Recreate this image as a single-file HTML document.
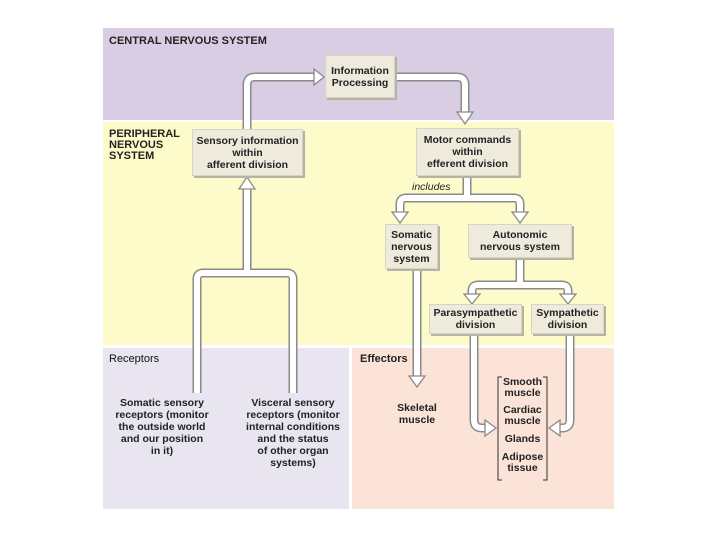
<!DOCTYPE html>
<html><head><meta charset="utf-8"><style>
body{margin:0;width:720px;height:540px;background:#fff;position:relative;overflow:hidden;font-family:"Liberation Sans",Arial,sans-serif;}
.r{position:absolute}
.box{position:absolute;background:#efebdc;box-shadow:2px 2px 0 #b5b2a6;border:1px solid #d8d4c4;font-size:10.5px;font-weight:bold;text-align:center;line-height:12px;color:#222;display:flex;align-items:center;justify-content:center;box-sizing:border-box}
.t{position:absolute;font-size:10.5px;font-weight:bold;color:#222;line-height:12px}
.c{text-align:center}
</style></head><body>
<div class="r" style="left:103px;top:28px;width:511px;height:92px;background:#d9cde3"></div>
<div class="r" style="left:103px;top:122px;width:511px;height:223px;background:#fdfbc9"></div>
<div class="r" style="left:103px;top:348px;width:246px;height:161px;background:#e8e4f0"></div>
<div class="r" style="left:352px;top:348px;width:262px;height:161px;background:#fbe3d8"></div>

<svg class="r" style="left:0;top:0" width="720" height="540">
<g fill="none" stroke-linejoin="round">
<g stroke="#8a8a8a" stroke-width="9">
<path d="M247 129 V85 Q247 77 255 77 H316"/>
<path d="M394 77 H457 Q465 77 465 85 V114"/>
<path d="M467 176 V198 M400 214 V204 Q400 198 406 198 H514 Q520 198 520 204 V214"/>
<path d="M247 186 V273 M197 393 V279 Q197 273 203 273 H287 Q293 273 293 279 V393"/>
<path d="M417 268 V378"/>
<path d="M520 257 V285 M472 296 V291 Q472 285 478 285 H562 Q568 285 568 291 V296"/>
<path d="M474 333 V420 Q474 428 482 428 H487"/>
<path d="M570 333 V420 Q570 428 562 428 H558"/>
</g>
<g stroke="#fff" stroke-width="6">
<path d="M247 129 V85 Q247 77 255 77 H316"/>
<path d="M394 77 H457 Q465 77 465 85 V114"/>
<path d="M467 176 V198 M400 214 V204 Q400 198 406 198 H514 Q520 198 520 204 V214"/>
<path d="M247 186 V273 M197 393 V279 Q197 273 203 273 H287 Q293 273 293 279 V393"/>
<path d="M417 268 V378"/>
<path d="M520 257 V285 M472 296 V291 Q472 285 478 285 H562 Q568 285 568 291 V296"/>
<path d="M474 333 V420 Q474 428 482 428 H487"/>
<path d="M570 333 V420 Q570 428 562 428 H558"/>
</g>
</g>
<g fill="#fff" stroke="#8a8a8a" stroke-width="1.3">
<polygon points="314,69 324,77 314,85"/>
<polygon points="457,112 473,112 465,124"/>
<polygon points="392,212 408,212 400,223"/>
<polygon points="512,212 528,212 520,223"/>
<polygon points="239,189 255,189 247,177"/>
<polygon points="409,376 425,376 417,387"/>
<polygon points="464,294 480,294 472,304"/>
<polygon points="560,294 576,294 568,304"/>
<polygon points="485,420 485,436 496,428"/>
<polygon points="560,420 560,436 549,428"/>
</g>
<path d="M502 377 H498 V480 H502 M543 377 H547 V480 H543" fill="none" stroke="#333" stroke-width="1"/>
</svg>

<div class="t" style="left:109px;top:35px;font-size:11px">CENTRAL NERVOUS SYSTEM</div>
<div class="t" style="left:109px;top:129px;line-height:11px;font-size:11px">PERIPHERAL<br>NERVOUS<br>SYSTEM</div>
<div class="box" style="left:325px;top:55px;width:70px;height:43px">Information<br>Processing</div>
<div class="box" style="left:192px;top:129px;width:111px;height:47px">Sensory information<br>within<br>afferent division</div>
<div class="box" style="left:416px;top:128px;width:103px;height:48px">Motor commands<br>within<br>efferent division</div>
<div class="t" style="left:412px;top:181px;font-weight:normal;font-style:italic">includes</div>
<div class="box" style="left:385px;top:224px;width:53px;height:45px">Somatic<br>nervous<br>system</div>
<div class="box" style="left:468px;top:224px;width:104px;height:34px">Autonomic<br>nervous system</div>
<div class="box" style="left:429px;top:304px;width:93px;height:30px">Parasympathetic<br>division</div>
<div class="box" style="left:531px;top:304px;width:73px;height:30px">Sympathetic<br>division</div>
<div class="t" style="left:109px;top:353px;font-weight:normal;font-size:11px;color:#111">Receptors</div>
<div class="t" style="left:360px;top:353px;font-size:11px">Effectors</div>
<div class="t c" style="left:108px;top:397px;width:108px">Somatic sensory<br>receptors (monitor<br>the outside world<br>and our position<br>in it)</div>
<div class="t c" style="left:238px;top:397px;width:110px">Visceral sensory<br>receptors (monitor<br>internal conditions<br>and the status<br>of other organ<br>systems)</div>
<div class="t c" style="left:390px;top:402px;width:54px">Skeletal<br>muscle</div>
<div class="t c" style="left:498px;top:377px;width:49px;line-height:11px">Smooth<br>muscle<div style="height:6px"></div>Cardiac<br>muscle<div style="height:7px"></div>Glands<div style="height:7px"></div>Adipose<br>tissue</div>
</body></html>
